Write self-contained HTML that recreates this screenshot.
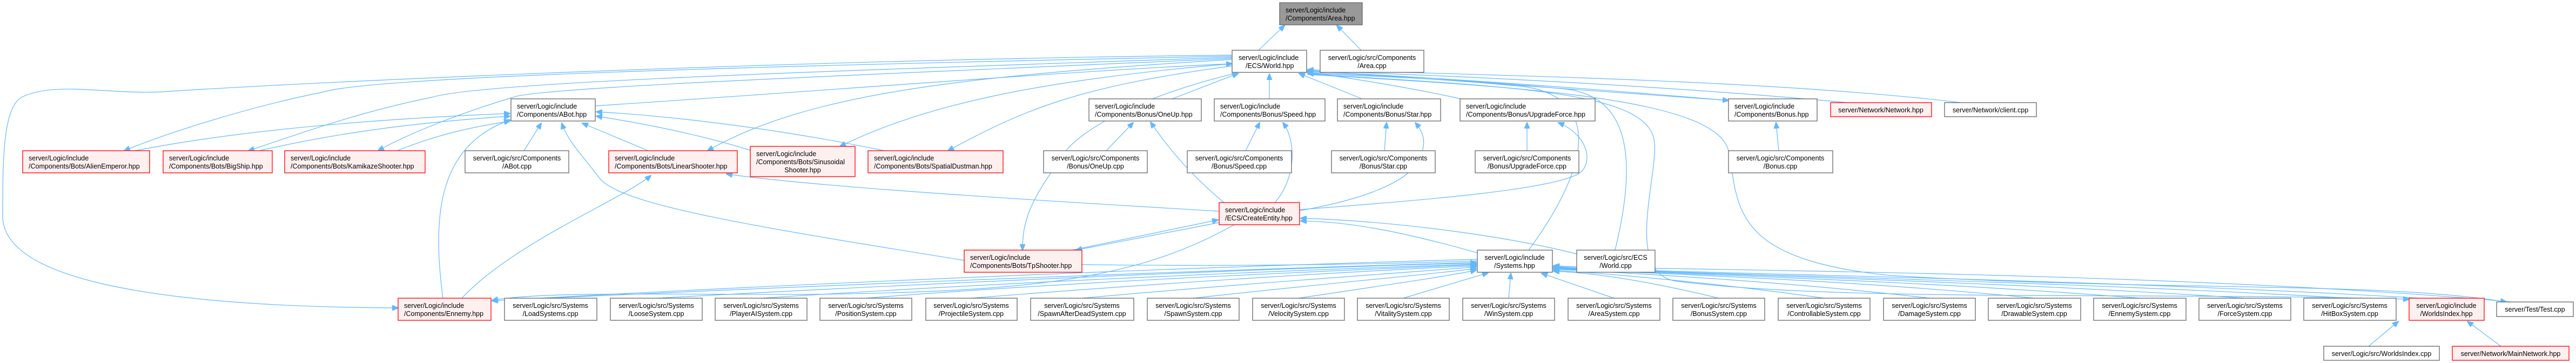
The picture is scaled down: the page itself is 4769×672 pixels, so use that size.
<!DOCTYPE html>
<html><head><meta charset="utf-8"><style>
html,body{margin:0;padding:0;background:#fff;}
svg{display:block;}
text{font-family:"Liberation Sans",Arial,sans-serif;font-size:12.5px;fill:#000;}
.n rect{fill:#fff;stroke:#666;stroke-width:1.3;}
.r rect{fill:#fff0f0;stroke:#f00;stroke-width:1.3;}
.g rect{fill:#999;stroke:#666;stroke-width:1.3;}
path{fill:none;stroke:#63b8ff;stroke-width:1.2;}
</style></head><body>
<svg width="4769" height="672" viewBox="0 0 4769 672" xmlns="http://www.w3.org/2000/svg">
<defs><marker id="a" markerWidth="12" markerHeight="10" refX="11" refY="5" orient="auto" markerUnits="userSpaceOnUse"><path d="M0,0 L12,5 L0,10 Z" style="fill:#63b8ff;stroke:#63b8ff"/></marker></defs>
<g marker-end="url(#a)">
<!-- to Area.hpp -->
<path d="M2330,93 L2378,47"/>
<path d="M2520,93 L2475,47"/>
<!-- World -> bots -->
<path d="M2281,104 C1500,120 700,140 600,170 C450,200 300,250 230,279"/>
<path d="M2281,106 C1600,130 900,150 800,180 C650,210 520,260 460,279"/>
<path d="M2281,108 C1700,135 1000,160 950,180 C850,210 750,250 700,279"/>
<path d="M2281,110 C1800,140 1500,170 1310,279"/>
<path d="M2281,118 C1900,150 1700,200 1555,271"/>
<path d="M2281,122 C2000,160 1900,200 1755,279"/>
<path d="M2290,135 C2100,180 1980,250 1960,300 C1900,380 1893,420 1893,463"/>
<path d="M2281,102 C1500,110 600,150 300,170 C200,175 100,150 40,180 C5,200 5,300 5,400 C5,520 300,568 737,570"/>
<!-- ABot -> World -->
<path d="M1102,196 C1500,170 2000,130 2281,118"/>
<!-- bots -> ABot -->
<path d="M250,279 C450,240 700,220 944,210"/>
<path d="M480,279 C650,240 800,225 944,215"/>
<path d="M735,279 C820,245 880,235 944,224"/>
<path d="M970,279 L1002,228"/>
<path d="M1200,279 L1078,228"/>
<path d="M1395,280 C1300,250 1200,230 1104,215"/>
<path d="M1637,279 C1450,240 1250,215 1104,207"/>
<path d="M1785,482 C1400,420 1150,380 1110,330 C1080,290 1050,260 1040,228"/>
<path d="M820,552 C800,400 810,270 944,222"/>
<path d="M855,552 C950,450 1150,370 1205,325"/>
<!-- row2 -> World -->
<path d="M2170,183 L2292,136"/>
<path d="M2350,183 L2350,137"/>
<path d="M2522,183 L2405,136"/>
<path d="M2705,183 C2600,160 2500,145 2419,133"/>
<path d="M2419,130 C2700,150 3000,170 3200,186"/>
<path d="M3200,186 C2900,160 2600,140 2421,132"/>
<path d="M3420,190 C3100,160 2700,140 2421,131"/>
<path d="M3630,190 C3300,150 2800,140 2421,129"/>
<!-- cpp -> hpp -->
<path d="M2048,279 L2098,227"/>
<path d="M2306,279 L2332,227"/>
<path d="M2563,279 L2567,227"/>
<path d="M2827,279 L2827,227"/>
<path d="M3293,279 L3288,227"/>
<!-- CreateEntity -> ... -->
<path d="M2266,375 C2200,320 2160,270 2130,226"/>
<path d="M2360,375 C2400,330 2400,260 2375,227"/>
<path d="M2406,390 C2520,370 2600,340 2625,300 C2640,270 2640,250 2620,227"/>
<path d="M2406,388 C2650,370 2880,350 2925,320 C2950,300 2940,250 2885,227"/>
<path d="M2257,391 C1900,370 1500,345 1345,322"/>
<path d="M1985,463 L2255,407"/>
<path d="M2257,412 L1992,463"/>
<path d="M2285,416 C2100,520 1900,540 1500,545 C1200,545 1000,540 911,556"/>
<!-- to CreateEntity / World -->
<path d="M2735,468 C2600,430 2500,410 2408,409"/>
<path d="M2919,470 C2800,440 2600,410 2408,404"/>
<path d="M2830,463 C2950,300 2960,180 2820,160 C2600,140 2500,138 2421,134"/>
<path d="M2990,463 C3030,300 3020,180 2900,165 C2700,145 2500,140 2421,136"/>
<path d="M2421,137 C2800,160 3030,170 3060,250 C3080,300 3000,500 3100,520 C3400,560 4000,540 4460,554"/>
<path d="M2421,138 C2800,160 3180,180 3200,280 C3220,380 3200,480 3500,510 C4000,540 4400,520 4640,559"/>
<!-- Systems -> row6 -->
<path d="M2735,480 C2000,500 1200,540 911,557"/>
<path d="M2735,483 C2200,500 1900,485 1787,489"/>
<path d="M1010,552 C1700,520 2400,495 2733,486"/>
<path d="M1215,552 C1800,520 2400,495 2733,487"/>
<path d="M1409,552 C1900,520 2450,498 2733,489"/>
<path d="M1603,552 C2000,520 2500,500 2733,490"/>
<path d="M1798,552 C2200,520 2550,500 2733,492"/>
<path d="M2003,552 C2300,525 2600,505 2733,494"/>
<path d="M2209,552 C2450,525 2650,508 2733,497"/>
<path d="M2404,552 C2550,530 2690,510 2733,500"/>
<path d="M2598,552 L2755,505"/>
<path d="M2793,552 L2797,506"/>
<path d="M2988,552 L2854,506"/>
<path d="M3182,552 C3050,520 2950,505 2876,502"/>
<path d="M3377,552 C3150,520 2950,505 2876,500"/>
<path d="M3572,552 C3300,520 3000,505 2876,498"/>
<path d="M3766,552 C3400,515 3000,505 2876,497"/>
<path d="M3961,552 C3500,515 3000,505 2876,496"/>
<path d="M4156,552 C3600,515 3000,505 2876,495"/>
<path d="M4350,552 C3700,515 3000,505 2876,494"/>
<path d="M4480,552 C3800,512 3000,505 2876,493"/>
<path d="M4650,559 C4000,500 3000,500 2876,492"/>
<!-- WorldsIndex -->
<path d="M4385,641 L4440,595"/>
<path d="M4630,641 L4568,595"/>
</g>
<!-- nodes -->
<g class="g"><rect x="2369" y="5" width="153" height="41"/><text x="2380" y="23">server/Logic/include</text><text x="2380" y="38">/Components/Area.hpp</text></g>
<g class="n"><rect x="2281" y="93" width="138" height="41"/><text x="2293" y="111">server/Logic/include</text><text x="2306" y="126">/ECS/World.hpp</text></g>
<g class="n"><rect x="2444" y="93" width="192" height="41"/><text x="2540" y="111" text-anchor="middle">server/Logic/src/Components</text><text x="2540" y="126" text-anchor="middle">/Area.cpp</text></g>
<g class="n"><rect x="946" y="183" width="156" height="41"/><text x="957" y="201">server/Logic/include</text><text x="957" y="216">/Components/ABot.hpp</text></g>
<g class="n"><rect x="2016" y="183" width="208" height="41"/><text x="2027" y="201">server/Logic/include</text><text x="2027" y="216">/Components/Bonus/OneUp.hpp</text></g>
<g class="n"><rect x="2248" y="183" width="205" height="41"/><text x="2259" y="201">server/Logic/include</text><text x="2259" y="216">/Components/Bonus/Speed.hpp</text></g>
<g class="n"><rect x="2476" y="183" width="191" height="41"/><text x="2487" y="201">server/Logic/include</text><text x="2487" y="216">/Components/Bonus/Star.hpp</text></g>
<g class="n"><rect x="2703" y="183" width="250" height="41"/><text x="2714" y="201">server/Logic/include</text><text x="2714" y="216">/Components/Bonus/UpgradeForce.hpp</text></g>
<g class="n"><rect x="3200" y="183" width="164" height="41"/><text x="3211" y="201">server/Logic/include</text><text x="3211" y="216">/Components/Bonus.hpp</text></g>
<g class="r"><rect x="3389" y="190" width="187" height="26"/><text x="3482" y="208" text-anchor="middle">server/Network/Network.hpp</text></g>
<g class="n"><rect x="3600" y="190" width="170" height="26"/><text x="3685" y="208" text-anchor="middle">server/Network/client.cpp</text></g>
<g class="r"><rect x="42" y="279" width="235" height="41"/><text x="53" y="297">server/Logic/include</text><text x="53" y="312">/Components/Bots/AlienEmperor.hpp</text></g>
<g class="r"><rect x="302" y="279" width="202" height="41"/><text x="313" y="297">server/Logic/include</text><text x="313" y="312">/Components/Bots/BigShip.hpp</text></g>
<g class="r"><rect x="527" y="279" width="260" height="41"/><text x="538" y="297">server/Logic/include</text><text x="538" y="312">/Components/Bots/KamikazeShooter.hpp</text></g>
<g class="n"><rect x="861" y="279" width="192" height="41"/><text x="957" y="297" text-anchor="middle">server/Logic/src/Components</text><text x="957" y="312" text-anchor="middle">/ABot.cpp</text></g>
<g class="r"><rect x="1127" y="279" width="238" height="41"/><text x="1138" y="297">server/Logic/include</text><text x="1138" y="312">/Components/Bots/LinearShooter.hpp</text></g>
<g class="r"><rect x="1389" y="271" width="194" height="56"/><text x="1400" y="289">server/Logic/include</text><text x="1400" y="304">/Components/Bots/Sinusoidal</text><text x="1486" y="319" text-anchor="middle">Shooter.hpp</text></g>
<g class="r"><rect x="1607" y="279" width="250" height="41"/><text x="1618" y="297">server/Logic/include</text><text x="1618" y="312">/Components/Bots/SpatialDustman.hpp</text></g>
<g class="n"><rect x="1932" y="279" width="192" height="41"/><text x="2028" y="297" text-anchor="middle">server/Logic/src/Components</text><text x="2028" y="312" text-anchor="middle">/Bonus/OneUp.cpp</text></g>
<g class="n"><rect x="2198" y="279" width="193" height="41"/><text x="2294" y="297" text-anchor="middle">server/Logic/src/Components</text><text x="2294" y="312" text-anchor="middle">/Bonus/Speed.cpp</text></g>
<g class="n"><rect x="2465" y="279" width="192" height="41"/><text x="2561" y="297" text-anchor="middle">server/Logic/src/Components</text><text x="2561" y="312" text-anchor="middle">/Bonus/Star.cpp</text></g>
<g class="n"><rect x="2731" y="279" width="192" height="41"/><text x="2827" y="297" text-anchor="middle">server/Logic/src/Components</text><text x="2827" y="312" text-anchor="middle">/Bonus/UpgradeForce.cpp</text></g>
<g class="n"><rect x="3200" y="279" width="193" height="41"/><text x="3296" y="297" text-anchor="middle">server/Logic/src/Components</text><text x="3296" y="312" text-anchor="middle">/Bonus.cpp</text></g>
<g class="r"><rect x="2257" y="375" width="149" height="41"/><text x="2268" y="393">server/Logic/include</text><text x="2268" y="408">/ECS/CreateEntity.hpp</text></g>
<g class="r"><rect x="1785" y="463" width="218" height="41"/><text x="1796" y="481">server/Logic/include</text><text x="1796" y="496">/Components/Bots/TpShooter.hpp</text></g>
<g class="n"><rect x="2735" y="463" width="139" height="41"/><text x="2804" y="481" text-anchor="middle">server/Logic/include</text><text x="2804" y="496" text-anchor="middle">/Systems.hpp</text></g>
<g class="n"><rect x="2919" y="463" width="145" height="41"/><text x="2991" y="481" text-anchor="middle">server/Logic/src/ECS</text><text x="2991" y="496" text-anchor="middle">/World.cpp</text></g>
<g class="r"><rect x="737" y="552" width="172" height="41"/><text x="748" y="570">server/Logic/include</text><text x="748" y="585">/Components/Ennemy.hpp</text></g>
<g class="n"><rect x="934" y="552" width="171" height="41"/><text x="1019" y="570" text-anchor="middle">server/Logic/src/Systems</text><text x="1019" y="585" text-anchor="middle">/LoadSystems.cpp</text></g>
<g class="n"><rect x="1130" y="552" width="170" height="41"/><text x="1215" y="570" text-anchor="middle">server/Logic/src/Systems</text><text x="1215" y="585" text-anchor="middle">/LooseSystem.cpp</text></g>
<g class="n"><rect x="1324" y="552" width="170" height="41"/><text x="1409" y="570" text-anchor="middle">server/Logic/src/Systems</text><text x="1409" y="585" text-anchor="middle">/PlayerAISystem.cpp</text></g>
<g class="n"><rect x="1518" y="552" width="170" height="41"/><text x="1603" y="570" text-anchor="middle">server/Logic/src/Systems</text><text x="1603" y="585" text-anchor="middle">/PositionSystem.cpp</text></g>
<g class="n"><rect x="1714" y="552" width="169" height="41"/><text x="1798" y="570" text-anchor="middle">server/Logic/src/Systems</text><text x="1798" y="585" text-anchor="middle">/ProjectileSystem.cpp</text></g>
<g class="n"><rect x="1908" y="552" width="191" height="41"/><text x="2003" y="570" text-anchor="middle">server/Logic/src/Systems</text><text x="2003" y="585" text-anchor="middle">/SpawnAfterDeadSystem.cpp</text></g>
<g class="n"><rect x="2124" y="552" width="170" height="41"/><text x="2209" y="570" text-anchor="middle">server/Logic/src/Systems</text><text x="2209" y="585" text-anchor="middle">/SpawnSystem.cpp</text></g>
<g class="n"><rect x="2319" y="552" width="170" height="41"/><text x="2404" y="570" text-anchor="middle">server/Logic/src/Systems</text><text x="2404" y="585" text-anchor="middle">/VelocitySystem.cpp</text></g>
<g class="n"><rect x="2513" y="552" width="170" height="41"/><text x="2598" y="570" text-anchor="middle">server/Logic/src/Systems</text><text x="2598" y="585" text-anchor="middle">/VitalitySystem.cpp</text></g>
<g class="n"><rect x="2708" y="552" width="170" height="41"/><text x="2793" y="570" text-anchor="middle">server/Logic/src/Systems</text><text x="2793" y="585" text-anchor="middle">/WinSystem.cpp</text></g>
<g class="n"><rect x="2903" y="552" width="170" height="41"/><text x="2988" y="570" text-anchor="middle">server/Logic/src/Systems</text><text x="2988" y="585" text-anchor="middle">/AreaSystem.cpp</text></g>
<g class="n"><rect x="3097" y="552" width="170" height="41"/><text x="3182" y="570" text-anchor="middle">server/Logic/src/Systems</text><text x="3182" y="585" text-anchor="middle">/BonusSystem.cpp</text></g>
<g class="n"><rect x="3292" y="552" width="170" height="41"/><text x="3377" y="570" text-anchor="middle">server/Logic/src/Systems</text><text x="3377" y="585" text-anchor="middle">/ControllableSystem.cpp</text></g>
<g class="n"><rect x="3487" y="552" width="170" height="41"/><text x="3572" y="570" text-anchor="middle">server/Logic/src/Systems</text><text x="3572" y="585" text-anchor="middle">/DamageSystem.cpp</text></g>
<g class="n"><rect x="3681" y="552" width="171" height="41"/><text x="3766" y="570" text-anchor="middle">server/Logic/src/Systems</text><text x="3766" y="585" text-anchor="middle">/DrawableSystem.cpp</text></g>
<g class="n"><rect x="3876" y="552" width="171" height="41"/><text x="3961" y="570" text-anchor="middle">server/Logic/src/Systems</text><text x="3961" y="585" text-anchor="middle">/EnnemySystem.cpp</text></g>
<g class="n"><rect x="4071" y="552" width="170" height="41"/><text x="4156" y="570" text-anchor="middle">server/Logic/src/Systems</text><text x="4156" y="585" text-anchor="middle">/ForceSystem.cpp</text></g>
<g class="n"><rect x="4265" y="552" width="171" height="41"/><text x="4350" y="570" text-anchor="middle">server/Logic/src/Systems</text><text x="4350" y="585" text-anchor="middle">/HitBoxSystem.cpp</text></g>
<g class="r"><rect x="4460" y="552" width="139" height="41"/><text x="4529" y="570" text-anchor="middle">server/Logic/include</text><text x="4529" y="585" text-anchor="middle">/WorldsIndex.hpp</text></g>
<g class="n"><rect x="4622" y="559" width="142" height="27"/><text x="4693" y="577" text-anchor="middle">server/Test/Test.cpp</text></g>
<g class="n"><rect x="4302" y="641" width="214" height="26"/><text x="4409" y="659" text-anchor="middle">server/Logic/src/WorldsIndex.cpp</text></g>
<g class="r"><rect x="4540" y="641" width="216" height="26"/><text x="4648" y="659" text-anchor="middle">server/Network/MainNetwork.hpp</text></g>
</svg>
</body></html>
